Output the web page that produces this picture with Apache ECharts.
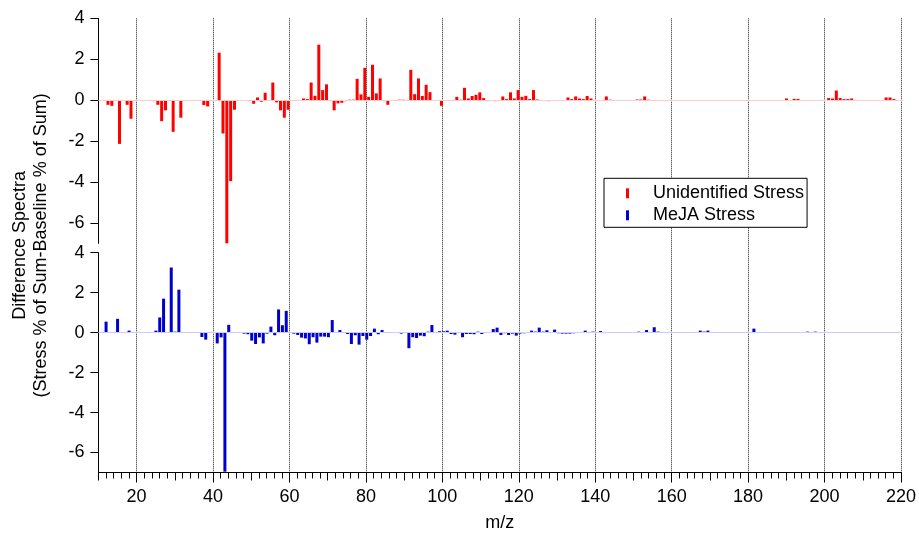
<!DOCTYPE html>
<html>
<head>
<meta charset="utf-8">
<script src="https://cdn.jsdelivr.net/npm/echarts@6/dist/echarts.min.js"></script>
<style>html,body{margin:0;padding:0;background:#fff}#c{width:919px;height:538px}</style>
</head>
<body>
<div id="c"></div>
<script>
// ---- DATA ----
const xTicks = [20, 40, 60, 80, 100, 120, 140, 160, 180, 200, 220];
const yTicks = [-6, -4, -2, 0, 2, 4];

const unidentifiedMz = [12,13,15,16,17,18,24,25,26,27,29,30,31,37,38,41,42,43,44,45,49,50,51,52,53,55,56,57,58,59,60,61,63,64,65,66,67,68,69,70,71,72,73,74,75,76,77,78,79,80,81,82,83,84,85,86,87,88,89,90,91,92,93,94,95,96,97,98,99,103,104,105,106,107,108,109,110,111,112,113,114,115,116,117,118,119,120,121,122,123,124,125,126,127,128,129,132,133,134,135,136,137,138,140,141,142,143,150,151,152,153,156,189,191,192,200,201,202,203,204,205,206,215,216,217];
const unidentifiedVal = [-0.23,-0.28,-2.14,-0.02,-0.23,-0.91,-0.05,-0.23,-1.03,-0.5,-1.55,-0.02,-0.86,-0.24,-0.31,2.32,-1.63,-7.0,-3.96,-0.47,-0.05,-0.18,0.13,-0.08,0.36,0.86,-0.11,-0.5,-0.86,-0.47,-0.03,-0.03,0.08,0.05,0.86,0.21,2.71,0.49,0.77,-0.02,-0.5,-0.16,-0.13,-0.05,0.02,0.02,1.04,0.28,1.58,0.16,1.73,0.33,1.06,-0.05,-0.23,-0.03,-0.03,0.02,0.02,-0.02,1.48,0.29,1.06,0.2,0.75,0.39,-0.02,-0.02,-0.28,0.16,0.02,0.6,0.08,0.2,0.26,0.38,0.1,-0.05,-0.03,-0.05,-0.02,0.18,0.05,0.38,0.08,0.49,0.16,0.21,0.05,0.49,0.03,-0.03,-0.03,-0.05,-0.02,-0.03,0.13,0.05,0.18,0.08,0.05,0.2,0.08,-0.03,-0.03,0.18,0.02,0.03,0.03,0.18,0.02,-0.03,0.08,0.06,0.06,0.1,0.08,0.47,0.1,0.05,0.05,0.08,0.13,0.13,0.05];

const mejaMz = [12,13,15,18,25,26,27,29,30,31,37,38,41,42,43,44,48,49,50,51,52,53,54,55,56,57,58,59,61,62,63,64,65,66,67,68,69,70,71,73,75,76,77,78,79,80,81,82,83,84,89,91,92,93,94,95,96,97,98,99,100,101,102,103,105,106,107,108,109,110,111,113,114,115,116,117,118,119,120,121,123,124,125,126,127,128,129,130,131,132,133,134,137,138,139,141,142,151,153,154,155,156,157,165,167,168,169,170,179,181,187,193,195,197,199];
const mejaVal = [0.55,0.03,0.69,0.1,0.1,0.76,1.7,3.26,0.05,2.15,-0.22,-0.35,-0.54,-0.24,-6.96,0.39,-0.05,-0.08,-0.4,-0.57,-0.24,-0.54,-0.05,0.3,-0.13,1.16,0.37,1.09,-0.05,-0.12,-0.25,-0.29,-0.58,-0.23,-0.5,-0.2,-0.2,-0.23,0.63,0.13,-0.07,-0.57,-0.13,-0.6,-0.17,-0.35,-0.17,0.2,-0.08,0.13,-0.05,-0.78,-0.23,-0.27,-0.15,-0.18,0.05,0.38,0.02,0.07,0.07,0.1,-0.07,-0.1,-0.23,-0.07,-0.07,-0.08,0.05,-0.07,0.02,0.18,0.25,-0.12,-0.03,-0.12,-0.05,-0.15,-0.05,-0.03,0.1,0.05,0.25,0.05,0.12,0.03,0.15,-0.03,-0.05,-0.05,-0.05,-0.03,0.1,0.02,0.05,0.08,0.02,0.05,0.13,0.02,0.27,0.05,0.02,0.03,0.1,0.05,0.1,0.03,0.03,0.2,0.03,0.03,0.05,0.05,0.03];

// ---- CHART ----
const FONT = 'Liberation Sans, Arial, Helvetica, sans-serif';
const chart = echarts.init(document.getElementById('c'), null, {renderer: 'canvas'});
const L = 98.4, W = 805;
const redData = unidentifiedMz.map((m, i) => [m, unidentifiedVal[i]]);
const blueData = mejaMz.map((m, i) => [m, mejaVal[i]]);

function yAx(grid) {
  return {
    gridIndex: grid, type: 'value', min: -7, max: 4, position: 'left',
    axisLine: {show: true, onZero: false, lineStyle: {color: '#000', width: 1}},
    axisTick: {show: true, inside: false, length: 8, customValues: yTicks, lineStyle: {color: '#000'}},
    axisLabel: {show: true, margin: 14, fontSize: 18, color: '#000', fontFamily: FONT, customValues: yTicks},
    splitLine: {show: false}
  };
}
function tickAx(interval, len) {
  return {gridIndex: 2, type: 'value', min: 10, max: 220, interval: interval, position: 'bottom',
    axisLine: {show: false, onZero: false}, axisLabel: {show: false}, splitLine: {show: false},
    axisTick: {show: true, length: len, lineStyle: {color: '#000'}}};
}

chart.setOption({
  animation: false,
  backgroundColor: '#fff',
  grid: [
    {left: L, width: W, top: 18.3, height: 225},
    {left: L, width: W, top: 252.7, height: 219.8},
    {left: L, width: W, top: 18.3, height: 454.2}
  ],
  xAxis: [
    {gridIndex: 0, type: 'value', min: 9.5, max: 219.5, show: false},
    {gridIndex: 1, type: 'value', min: 10, max: 220, show: false},
    {gridIndex: 2, type: 'value', min: 10, max: 220, interval: 20, position: 'bottom',
      axisLine: {show: true, onZero: false, lineStyle: {color: '#000', width: 1}},
      axisTick: {show: true, length: 10, customValues: xTicks, lineStyle: {color: '#000'}},
      axisLabel: {margin: 16, fontSize: 18, color: '#000', fontFamily: FONT, customValues: xTicks},
      splitLine: {show: true, lineStyle: {color: '#222', type: [1, 1], width: 1}},
      name: 'm/z', nameLocation: 'middle', nameGap: 42,
      nameTextStyle: {fontSize: 18, color: '#000', fontFamily: FONT}
    },
    tickAx(10, 8),
    tickAx(2, 6)
  ],
  yAxis: [
    yAx(0), yAx(1),
    {gridIndex: 2, type: 'value', min: 0, max: 1, position: 'left',
      axisLine: {show: false}, axisTick: {show: false}, axisLabel: {show: false}, splitLine: {show: false},
      name: 'Difference Spectra\n(Stress % of Sum-Baseline % of Sum)',
      nameLocation: 'middle', nameGap: 47, nameRotate: 90,
      nameTextStyle: {fontSize: 18, color: '#000', fontFamily: FONT, lineHeight: 21, align: 'center'}
    }
  ],
  legend: {
    orient: 'vertical', left: 604, top: 178.3,
    data: ['Unidentified Stress', 'MeJA Stress'],
    icon: 'rect', itemWidth: 3, itemHeight: 10, itemGap: 4,
    padding: [6, 3, 3, 22],
    borderColor: '#000', borderWidth: 1, backgroundColor: '#fff',
    textStyle: {fontSize: 18, color: '#000', fontFamily: FONT, lineHeight: 16, padding: [0, 0, 0, 19]}
  },
  series: [
    {name: 'Unidentified Stress', type: 'bar', xAxisIndex: 0, yAxisIndex: 0, data: redData,
      barWidth: 3, itemStyle: {color: '#ff0000'},
      markLine: {silent: true, symbol: 'none', label: {show: false},
        lineStyle: {color: '#ffcccc', type: 'solid', width: 1}, data: [{yAxis: 0}]}
    },
    {name: 'MeJA Stress', type: 'bar', xAxisIndex: 1, yAxisIndex: 1, data: blueData,
      barWidth: 3, itemStyle: {color: '#0000cc'},
      markLine: {silent: true, symbol: 'none', label: {show: false},
        lineStyle: {color: '#ccccff', type: 'solid', width: 1}, data: [{yAxis: 0}]}
    }
  ]
});
</script>
</body>
</html>
